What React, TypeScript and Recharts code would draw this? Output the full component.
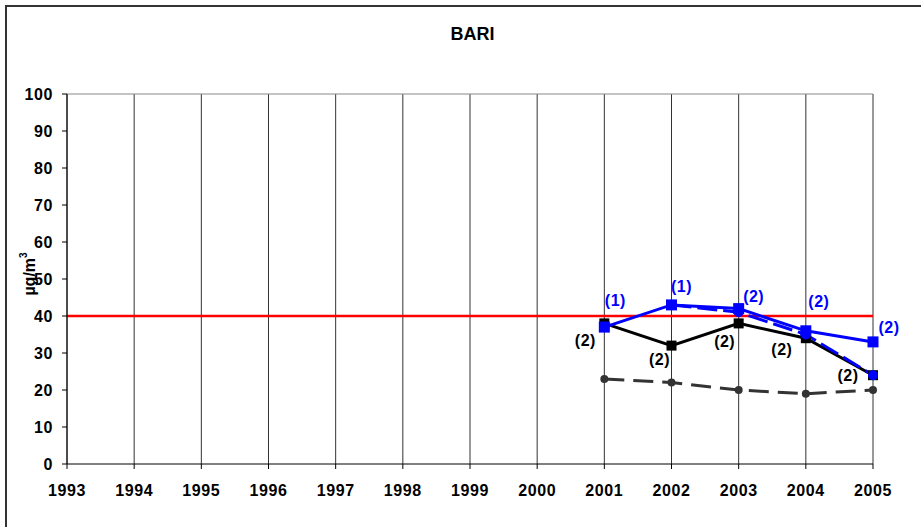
import React from "react";
import {
  LineChart,
  Line,
  XAxis,
  YAxis,
  CartesianGrid,
  ReferenceLine,
  LabelList,
} from "recharts";

const years = ["1993", "1994", "1995", "1996", "1997", "1998", "1999", "2000", "2001", "2002", "2003", "2004", "2005"];
const blueSolid = [null, null, null, null, null, null, null, null, 37, 43, 42, 36, 33];
const blueDashed = [null, null, null, null, null, null, null, null, null, 43, 41, 35, 24];
const blackSolid = [null, null, null, null, null, null, null, null, 38, 32, 38, 34, 24];
const grayDashed = [null, null, null, null, null, null, null, null, 23, 22, 20, 19, 20];
const blueNotes = [null, null, null, null, null, null, null, null, "(1)", "(1)", "(2)", "(2)", "(2)"];
const blackNotes = [null, null, null, null, null, null, null, null, "(2)", "(2)", "(2)", "(2)", "(2)"];
const yTicks = [0, 10, 20, 30, 40, 50, 60, 70, 80, 90, 100];
const limitValue = 40;
const title = "BARI";

const data = years.map((y, i) => ({
  year: y,
  blueSolid: blueSolid[i],
  blueDashed: blueDashed[i],
  blackSolid: blackSolid[i],
  grayDashed: grayDashed[i],
  blueNote: blueNotes[i],
  blackNote: blackNotes[i],
}));

// label offsets (style only), relative to point, text center
const blueOffsets: Record<string, [number, number]> = {
  "2001": [11, -27], "2002": [10, -18], "2003": [15, -12], "2004": [13, -29], "2005": [16, -14],
};
const blackOffsets: Record<string, [number, number]> = {
  "2001": [-19, 17], "2002": [-12, 14], "2003": [-14, 18], "2004": [-24, 11], "2005": [-25, 0],
};

const FONT = "'Liberation Sans', Arial, sans-serif";

const Square = (color: string, size: number) => (props: any) => {
  const { cx, cy, value } = props;
  if (value == null || cx == null || cy == null) return <g />;
  return <rect x={cx - size / 2} y={cy - size / 2} width={size} height={size} fill={color} />;
};

const Circle = (color: string, r: number) => (props: any) => {
  const { cx, cy, value } = props;
  if (value == null || cx == null || cy == null) return <g />;
  return <circle cx={cx} cy={cy} r={r} fill={color} />;
};

const makeNote = (color: string, offsets: Record<string, [number, number]>) => (props: any) => {
  const { x, y, value, index } = props;
  if (value == null || x == null || y == null) return null;
  const yr = years[index];
  const off = offsets[yr] || [0, 0];
  return (
    <text
      x={x + off[0]}
      y={y + off[1]}
      textAnchor="middle"
      dominantBaseline="central"
      fill={color}
      fontFamily={FONT}
      fontWeight="bold"
      fontSize={16}
      letterSpacing={0.5}
    >
      {value}
    </text>
  );
};

const YLabel = () => (
  <text
    transform="translate(29,274) rotate(-90)"
    textAnchor="middle"
    dominantBaseline="central"
    fontFamily={FONT}
    fontWeight="bold"
    fontSize={16}
    fill="#000"
  >
    µg/m<tspan dy={-6} fontSize={10}>3</tspan>
  </text>
);

const tickStyle = { fill: "#000", fontFamily: FONT, fontWeight: "bold", fontSize: 16, letterSpacing: 0.6 };

export default function App() {
  return (
    <div style={{ position: "absolute", left: 0, top: 0, width: 921, height: 527, background: "#fff", overflow: "hidden" }}>
      <div
        style={{
          position: "absolute",
          left: 5,
          top: 5,
          width: 1000,
          height: 1000,
          borderLeft: "2px solid #333",
          borderTop: "2px solid #333",
        }}
      />
      <div
        style={{
          position: "absolute",
          left: 0,
          top: 23,
          width: 945,
          textAlign: "center",
          fontFamily: FONT,
          fontWeight: "bold",
          fontSize: 18,
          lineHeight: "22px",
          color: "#000",
        }}
      >
        {title}
      </div>
      <div style={{ position: "absolute", left: 0, top: 0 }}>
        <LineChart
          width={921}
          height={527}
          data={data}
          margin={{ top: 94, right: 48, bottom: 23, left: 0 }}
        >
          <CartesianGrid horizontal={false} vertical={true} stroke="#333" strokeWidth={1} />
          <ReferenceLine y={100} stroke="#888" strokeWidth={1} />
          <XAxis
            dataKey="year"
            height={40}
            tickLine={{ stroke: "#000" }}
            axisLine={{ stroke: "#000" }}
            tickSize={5}
            tickMargin={16}
            interval={0}
            tick={tickStyle}
          />
          <YAxis
            width={67}
            domain={[0, 100]}
            ticks={yTicks}
            interval={0}
            tickSize={5}
            tickMargin={9}
            tickLine={{ stroke: "#000" }}
            axisLine={{ stroke: "#000" }}
            tick={tickStyle}
            label={<YLabel />}
          />
          <ReferenceLine y={limitValue} stroke="#FF0000" strokeWidth={2.5} />
          <Line
            dataKey="grayDashed"
            stroke="#333"
            strokeWidth={3}
            strokeDasharray="20 9"
            dot={Circle("#333", 4)}
            activeDot={false}
            isAnimationActive={false}
          />
          <Line
            dataKey="blackSolid"
            stroke="#000"
            strokeWidth={3}
            dot={Square("#000", 10)}
            activeDot={false}
            isAnimationActive={false}
          >
            <LabelList dataKey="blackNote" content={makeNote("#000", blackOffsets)} />
          </Line>
          <Line
            dataKey="blueDashed"
            stroke="#0000FF"
            strokeWidth={3}
            strokeDasharray="20 6"
            dot={Circle("#0000FF", 5)}
            activeDot={false}
            isAnimationActive={false}
          />
          <Line
            dataKey="blueSolid"
            stroke="#0000FF"
            strokeWidth={3}
            dot={Square("#0000FF", 11)}
            activeDot={false}
            isAnimationActive={false}
          >
            <LabelList dataKey="blueNote" content={makeNote("#0000FF", blueOffsets)} />
          </Line>
        </LineChart>
      </div>
    </div>
  );
}
